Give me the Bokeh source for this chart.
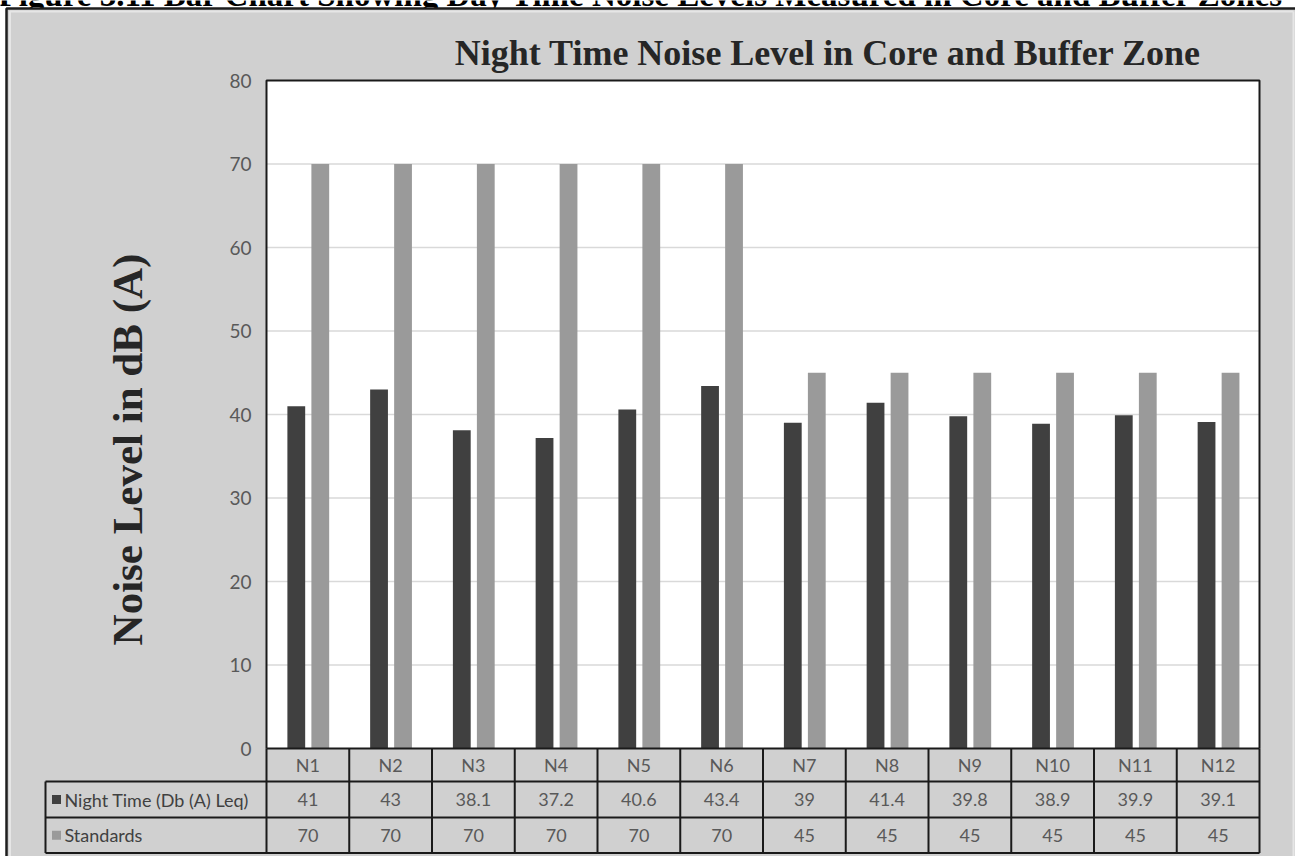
import math
from bokeh.plotting import figure
from bokeh.models import Range1d, FixedTicker
from bokeh.core.properties import value
from bokeh.embed import file_html
from bokeh.resources import INLINE

# ---------------- data ----------------
categories = ["N1", "N2", "N3", "N4", "N5", "N6", "N7", "N8", "N9", "N10", "N11", "N12"]
night_time = [41, 43, 38.1, 37.2, 40.6, 43.4, 39, 41.4, 39.8, 38.9, 39.9, 39.1]
standards = [70, 70, 70, 70, 70, 70, 45, 45, 45, 45, 45, 45]
series_names = ["Night Time (Db (A) Leq)", "Standards"]
y_ticks = [0, 10, 20, 30, 40, 50, 60, 70, 80]
title_text = "Night Time Noise Level in Core and Buffer Zone"
y_label_text = "Noise Level in dB (A)"
caption_text = "Figure 3.11 Bar Chart Showing Day Time Noise Levels Measured in Core and Buffer Zones"

# ---------------- styles ----------------
BG = "#d0d0d0"
DARK = "#404040"
LIGHT = "#9a9a9a"
GRID = "#d9d9d9"
TXT = "#595959"
LATO = value("Lato")
SERIF = value("Liberation Serif")

W, H = 1295, 856
n = len(categories)
ymax = y_ticks[-1]

# plot area in pixels: left 266, right 1259, top 80, bottom 748
PL, PR, PT, PB = 266, 1259, 80, 748
sx = (PR - PL) / n          # px per category
sy = (PB - PT) / ymax       # px per value unit


def X(px):
    return (px - PL) / sx


def Y(py):
    return (PB - py) / sy


XS, XE = X(0), X(W)
YS, YE = Y(H), Y(0)

p = figure(width=W, height=H, output_backend="svg", toolbar_location=None,
           x_range=Range1d(XS, XE), y_range=Range1d(YS, YE),
           x_axis_location=None, y_axis_location="left", title_location=None,
           min_border=0, background_fill_color="white", border_fill_color="white",
           outline_line_color=None)
p.xgrid.visible = False
p.ygrid.visible = False

# caption (cut off at the top of the picture)
p.text(x=[X(-2)], y=[Y(-6)], text=[caption_text], text_align="left", text_baseline="middle",
       text_font=SERIF, text_font_style="bold", text_font_size="33px", text_color="black")

# chart background panel
p.quad(left=[X(6)], right=[XE], bottom=[YS], top=[Y(8)], fill_color=BG, line_color=None)
p.line(x=[X(6), X(6), XE], y=[YS, Y(8), Y(8)], line_color="#1e1e1e", line_width=2.5)
p.line(x=[X(9.5), X(9.5), X(1293)], y=[YS, Y(11), Y(11)], line_color="#e6e6e6", line_width=2)
p.line(x=[X(1293), X(1293)], y=[YS, Y(11)], line_color="#e6e6e6", line_width=2)

# y axis placed at the plot area's left edge
ax = p.yaxis[0]
ax.fixed_location = 0
ax.ticker = FixedTicker(ticks=y_ticks)
ax.axis_line_color = None
ax.major_tick_line_color = None
ax.minor_tick_line_color = None
ax.major_tick_out = 0
ax.major_tick_in = 0
ax.major_label_standoff = 15
ax.major_label_text_font = "Lato"
ax.major_label_text_font_size = "19px"
ax.major_label_text_color = TXT

# white plot area
p.quad(left=[0], right=[n], bottom=[0], top=[ymax], fill_color="white", line_color=None)

# gridlines
inner = y_ticks[1:-1]
p.segment(x0=[0] * len(inner), x1=[n] * len(inner), y0=inner, y1=inner,
          line_color=GRID, line_width=1.5)

# bars
idx = list(range(n))
p.vbar(x=[i + 0.36 for i in idx], width=0.215, bottom=0, top=night_time,
       fill_color=DARK, line_color=None)
p.vbar(x=[i + 0.65 for i in idx], width=0.215, bottom=0, top=standards,
       fill_color=LIGHT, line_color=None)

# plot area border
p.line(x=[0, 0, n, n], y=[0, ymax, ymax, 0], line_color="#1a1a1a", line_width=2)

# ---------------- data table ----------------
HDR = Y(781)
R1 = Y(817)
R2 = Y(852.5)
LABEL_LEFT = X(45)

hx0 = [0, LABEL_LEFT, LABEL_LEFT, LABEL_LEFT]
hx1 = [n, n, n, n]
hy = [0, HDR, R1, R2]
p.segment(x0=hx0, x1=hx1, y0=hy, y1=hy, line_color="#1a1a1a", line_width=2)
vx = list(range(n + 1))
p.segment(x0=vx, x1=vx, y0=[0] * len(vx), y1=[R2] * len(vx), line_color="#1a1a1a", line_width=2)
p.segment(x0=[LABEL_LEFT], x1=[LABEL_LEFT], y0=[HDR], y1=[R2], line_color="#1a1a1a", line_width=2)

cx = [i + 0.5 for i in idx]
p.text(x=cx, y=[HDR / 2] * n, text=categories, text_align="center", text_baseline="middle",
       text_font=LATO, text_font_size="18px", text_color=TXT)
p.text(x=cx, y=[(HDR + R1) / 2] * n, text=[f"{v:g}" for v in night_time], text_align="center",
       text_baseline="middle", text_font=LATO, text_font_size="18px", text_color=TXT)
p.text(x=cx, y=[(R1 + R2) / 2] * n, text=[f"{v:g}" for v in standards], text_align="center",
       text_baseline="middle", text_font=LATO, text_font_size="18px", text_color=TXT)

row_y = [(HDR + R1) / 2, (R1 + R2) / 2]
p.scatter(x=[X(56)] * 2, y=row_y, marker="square", size=9,
          fill_color=[DARK, LIGHT], line_color=None)
p.text(x=[X(64)] * 2, y=row_y, text=series_names, text_align="left",
       text_baseline="middle", text_font=LATO, text_font_size="18px", text_color="#404040")

# ---------------- titles ----------------
p.text(x=[X(827.5)], y=[Y(52)], text=[title_text], text_align="center", text_baseline="middle",
       text_font=SERIF, text_font_style="bold", text_font_size="36px", text_color="#262626")
p.text(x=[X(127)], y=[Y(449)], text=[y_label_text], angle=math.pi / 2,
       text_align="center", text_baseline="middle",
       text_font=SERIF, text_font_style="bold", text_font_size="43px", text_color="#262626")

open("out.html", "w").write(file_html(p, INLINE))
